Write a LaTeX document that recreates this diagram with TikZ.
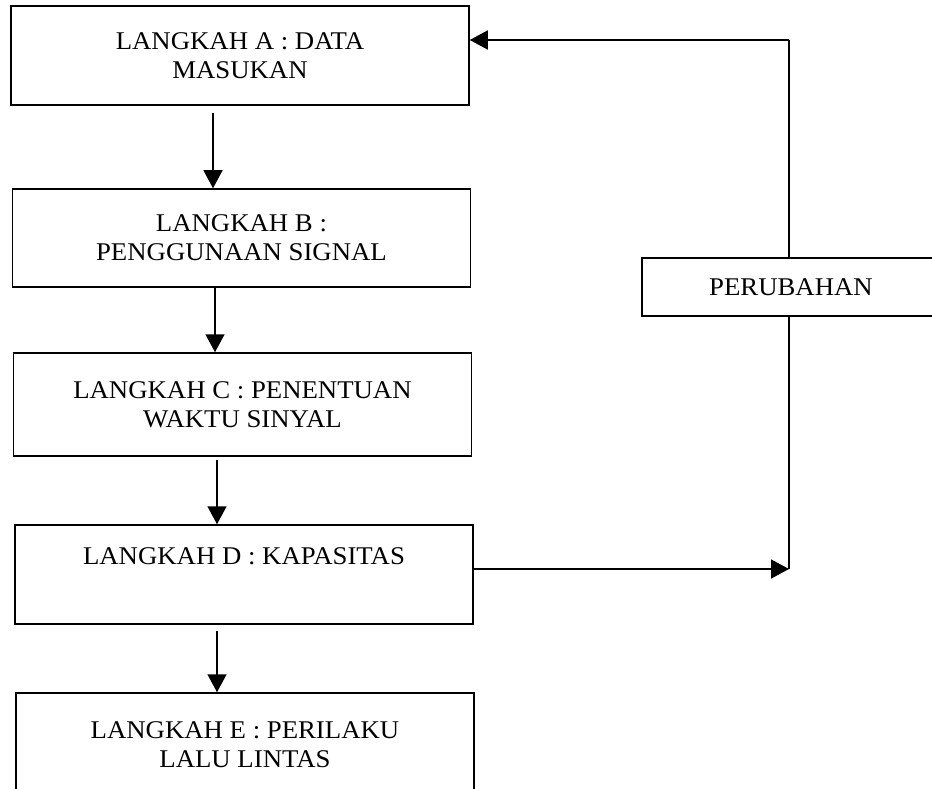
\documentclass[tikz,border=0pt]{standalone}
\usepackage{fontspec}
\setmainfont[FakeStretch=1.05]{Liberation Serif}
\usetikzlibrary{arrows.meta}
\begin{document}
\begin{tikzpicture}[x=1pt,y=-1pt,
  stepbox/.style={draw, line width=1.5pt, rectangle, align=center, inner sep=0pt,
    minimum width=458pt, font=\fontsize{25.5}{29}\selectfont},
  flow/.style={line width=1.5pt, -{Triangle[length=18pt,width=19pt]}},
  link/.style={line width=1.5pt}]
\useasboundingbox (0,0) rectangle (932,789);

% the five steps
\node[stepbox, minimum height=99pt]  (A) at (240,55.5)  {LANGKAH A : DATA\\MASUKAN};
\node[stepbox, minimum height=98pt]  (B) at (241.5,238) {LANGKAH B :\\PENGGUNAAN SIGNAL};
\node[stepbox, minimum height=103pt] (C) at (242.5,404.5) {LANGKAH C : PENENTUAN\\WAKTU SINYAL};
\node[stepbox, minimum height=99pt]  (D) at (244,574.5) {LANGKAH D : KAPASITAS\\\strut};
\node[stepbox, minimum height=104pt] (E) at (245,745) {LANGKAH E : PERILAKU\\LALU LINTAS};

% feedback box on the right
\node[stepbox, minimum width=298pt, minimum height=58pt] (P) at (791,287) {PERUBAHAN};

% columns of the downward arrows
\coordinate (c1) at (213,0);
\coordinate (c2) at (215,0);
\coordinate (c3) at (217,0);
\draw[flow] ([yshift=-7pt]A.south -| c1) -- (B.north -| c1);
\draw[flow] (B.south -| c2) -- (C.north -| c2);
\draw[flow] ([yshift=-3pt]C.south -| c3) -- (D.north -| c3);
\draw[flow] ([yshift=-6pt]D.south -| c3) -- (E.north -| c3);

% feedback loop
\coordinate (top) at (789,40);
\coordinate (low) at (789,569);
\draw[flow] (D.east |- low) -- (low);
\draw[link] (low) -- (P.south -| low);
\draw[link] (P.north -| top) -- (top);
\draw[flow] (top) -- (A.east |- top);
\end{tikzpicture}
\end{document}
